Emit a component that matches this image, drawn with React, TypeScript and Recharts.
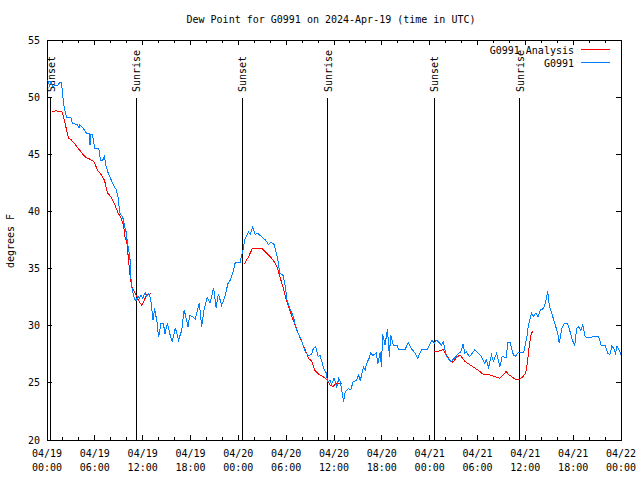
import { LineChart, Line, XAxis, YAxis, ReferenceLine, ReferenceArea } from 'recharts';

const FONT = '"DejaVu Sans Mono", "Liberation Mono", monospace';

// G0991 observations (hours since 04/19 00:00 UTC, deg F)
const obsHours = [
  0.1, 0.3, 0.5, 0.7, 1.0, 1.3, 1.6, 1.8, 2.0, 2.2, 2.5, 3.0, 3.2, 3.8, 4.0, 4.1, 4.5, 4.8, 5.0, 5.3,
  5.4, 5.5, 5.7, 6.0, 6.5, 6.7, 7.0, 7.2, 7.4, 7.6, 7.9, 8.2, 8.5, 8.7, 8.9, 9.1, 9.2, 9.5, 9.7, 9.9,
  10.1, 10.4, 10.5, 10.7, 11.0, 11.2, 11.4, 11.6, 11.8, 12.0, 12.3, 12.5, 12.7, 13.0, 13.3, 13.5, 13.8, 14.0, 14.3, 14.6,
  14.8, 15.1, 15.4, 15.7, 16.1, 16.5, 16.9, 17.2, 17.4, 17.7, 17.9, 18.2, 18.6, 19.1, 19.4, 19.7, 20.1, 20.45, 20.9, 21.2,
  21.5, 21.9, 22.3, 22.7, 23.0, 23.3, 23.6, 24.2, 24.55, 24.8, 25.25, 25.5, 25.8, 26.1, 26.4, 26.9, 27.4, 27.8, 28.1, 28.5,
  28.9, 29.2, 29.6, 29.9, 30.1, 30.4, 30.9, 31.3, 31.7, 31.9, 32.4, 32.8, 33.2, 33.4, 33.7, 34.0, 34.25, 34.7, 35.0, 35.2,
  35.5, 35.7, 36.0, 36.35, 36.6, 36.8, 37.2, 37.4, 37.8, 38.1, 38.4, 38.8, 39.1, 39.3, 39.7, 39.9, 40.1, 40.4, 40.6, 40.9,
  41.3, 41.5, 41.8, 41.95, 42.1, 42.4, 42.7, 42.95, 43.1, 43.45, 43.9, 44.1, 44.9, 45.3, 45.8, 46.2, 46.5, 47.0, 47.7, 48.3,
  48.6, 48.8, 49.1, 49.5, 49.7, 50.1, 50.5, 50.7, 51.0, 51.3, 51.65, 51.9, 52.2, 52.4, 52.6, 53.0, 53.2, 53.65, 54.1, 54.5,
  54.9, 55.1, 55.4, 55.75, 56.0, 56.4, 56.8, 57.1, 57.6, 57.8, 58.1, 58.5, 58.75, 59.0, 59.3, 59.8, 60.2, 60.4, 60.6, 60.8,
  61.0, 61.3, 61.6, 61.9, 62.3, 62.6, 62.8, 63.0, 63.3, 63.75, 64.1, 64.25, 64.6, 64.9, 65.3, 65.6, 65.9, 66.2, 66.45, 66.7,
  66.95, 67.2, 67.5, 67.7, 68.3, 68.5, 69.2, 69.5, 70.0, 70.35, 70.6, 70.85, 71.1, 71.3, 71.5, 71.7, 72.0,
];
const obsValues = [
  51.5, 51.0, 51.4, 50.9, 51.0, 51.0, 51.3, 51.3, 50.0, 48.9, 48.2, 48.2, 47.7, 47.6, 47.3, 47.6, 47.3, 47.0, 46.8, 46.8,
  45.8, 46.7, 46.7, 45.5, 45.5, 44.5, 44.5, 44.8, 44.0, 43.5, 43.0, 42.5, 42.1, 41.9, 41.3, 40.0, 39.8, 39.5, 38.8, 38.3,
  37.2, 36.0, 34.3, 33.1, 32.3, 32.2, 32.6, 32.4, 32.7, 32.4, 32.9, 32.6, 32.8, 32.4, 30.5, 31.5, 30.3, 29.0, 30.2, 30.2,
  29.3, 30.2, 29.3, 28.6, 29.8, 28.75, 29.6, 31.4, 30.8, 29.9, 30.9, 30.8, 30.6, 32.0, 29.9, 31.4, 32.5, 32.0, 33.3, 31.6,
  32.8, 31.8, 32.5, 33.7, 34.0, 34.6, 35.5, 35.5, 36.5, 37.5, 38.2, 38.0, 38.6, 38.0, 38.1, 37.8, 37.5, 37.1, 37.3, 37.1,
  36.0, 34.6, 34.4, 33.4, 32.25, 31.6, 30.8, 29.6, 29.1, 28.8, 27.7, 27.4, 27.5, 28.0, 28.2, 27.3, 27.4, 26.3, 25.9, 25.1,
  25.2, 24.9, 25.4, 24.65, 25.4, 25.1, 23.35, 24.2, 24.5, 24.4, 25.1, 25.2, 25.7, 25.2, 26.4, 26.1, 26.7, 27.15, 27.6, 27.4,
  27.6, 26.7, 27.7, 26.4, 29.3, 28.3, 29.7, 27.3, 29.2, 28.3, 28.3, 27.9, 27.9, 28.5, 27.9, 27.6, 27.15, 27.95, 27.95, 28.75,
  28.45, 28.75, 28.6, 28.3, 28.6, 27.3, 27.0, 26.85, 27.1, 27.3, 27.6, 27.7, 28.4, 27.6, 27.7, 27.3, 27.45, 27.9, 27.6, 27.3,
  26.7, 27.0, 26.35, 27.45, 26.9, 27.6, 26.4, 27.3, 27.2, 28.5, 28.5, 27.45, 27.3, 27.6, 27.7, 27.7, 29.05, 30.1, 30.65, 31.1,
  30.8, 31.1, 30.8, 31.4, 31.5, 32.25, 33.0, 31.8, 31.1, 30.1, 29.2, 28.5, 29.8, 30.2, 30.2, 29.5, 28.75, 28.3, 29.8, 29.9,
  29.6, 30.1, 29.05, 29.0, 29.0, 29.05, 29.05, 28.3, 28.3, 27.6, 27.45, 28.2, 28.0, 27.6, 28.2, 28.0, 27.45,
];

// G0991 Analysis (null = gap)
const anaHours = [
  0.63, 1.1, 1.9, 2.3, 2.7, 3.0, 3.6, 4.05, 4.5, 4.9, 5.3, 5.9, 6.35, 6.8, 7.2, 7.6, 8.0, 8.45, 8.9, 9.3,
  9.6, 9.8, 10.0, 10.25, 10.45, 10.65, 10.95, 11.45, 11.9, 12.5, 13.0,
  18.0,
  24.75, 25.25, 25.8, 26.9, 28.0, 28.5, 28.9, 29.2, 29.65, 30.0, 30.3, 30.7, 31.1, 31.5, 31.95, 32.4, 32.8, 33.2, 33.6, 34.0,
  34.5, 34.9, 35.3, 35.5, 35.9, 36.3, 37.0,
  42.0,
  48.6, 49.05, 49.7, 50.1, 50.5, 50.9, 51.35, 51.8, 52.4, 53.0, 53.65, 54.3, 54.7, 55.5, 56.2, 56.8, 57.2, 57.6, 57.9, 58.3,
  58.75, 59.2, 59.7, 60.05, 60.3, 60.5, 60.7, 60.9,
];
const anaValues = [
  48.7, 48.8, 48.7, 47.6, 46.4, 46.3, 45.8, 45.4, 45.0, 44.7, 44.6, 44.35, 43.6, 43.2, 42.75, 41.6, 41.3, 40.7, 39.9, 39.4,
  38.8, 37.65, 37.4, 35.6, 34.15, 33.4, 33.0, 32.25, 31.75, 32.7, 32.8,
  null,
  35.4, 36.0, 36.8, 36.8, 36.05, 35.6, 35.1, 34.3, 33.3, 32.25, 31.7, 30.8, 30.1, 29.35, 28.6, 27.9, 27.15, 26.9, 26.1, 25.8,
  25.6, 25.4, 25.1, 24.8, 24.7, 24.95, 24.9,
  null,
  27.7, 27.75, 27.9, 27.45, 27.0, 26.8, 27.2, 27.45, 26.9, 26.6, 26.3, 26.0, 25.75, 25.7, 25.55, 25.4, 25.7, 26.0, 25.7, 25.55,
  25.3, 25.25, 25.55, 25.85, 27.0, 28.3, 29.2, 29.5,
];

const sunHours = [0.45, 11.2, 24.5, 35.2, 48.6, 59.3];
const sunLabels = ['Sunset', 'Sunrise', 'Sunset', 'Sunrise', 'Sunset', 'Sunrise'];

const xTicks = [0, 2, 4, 6, 8, 10, 12, 14, 16, 18, 20, 22, 24, 26, 28, 30, 32, 34, 36, 38, 40, 42, 44, 46, 48, 50, 52, 54, 56, 58, 60, 62, 64, 66, 68, 70, 72];
const xMajor = [0, 6, 12, 18, 24, 30, 36, 42, 48, 54, 60, 66, 72];
const xDateLabels = ['04/19', '04/19', '04/19', '04/19', '04/20', '04/20', '04/20', '04/20', '04/21', '04/21', '04/21', '04/21', '04/22'];
const xTimeLabels = ['00:00', '06:00', '12:00', '18:00', '00:00', '06:00', '12:00', '18:00', '00:00', '06:00', '12:00', '18:00', '00:00'];
const yTicks = [20, 25, 30, 35, 40, 45, 50, 55];

const seriesNames = ['G0991 Analysis', 'G0991'];
const seriesColors = ['#ff0000', '#0080ff'];

const obsData = obsHours.map((h, i) => ({ h, v: obsValues[i] }));
const anaData = anaHours.map((h, i) => ({ h, v: anaValues[i] }));

const PLOT_TOP = 40;
const PLOT_BOTTOM = 440;
const PLOT_LEFT = 47;
const PLOT_RIGHT = 621;

function XTick(props: any) {
  const { x, payload } = props;
  const idx = xMajor.indexOf(payload.value);
  const len = idx >= 0 ? 5 : 3;
  return (
    <g>
      <line x1={x} x2={x} y1={PLOT_BOTTOM} y2={PLOT_BOTTOM - len} stroke="#000" shapeRendering="crispEdges" />
      <line x1={x} x2={x} y1={PLOT_TOP} y2={PLOT_TOP + len} stroke="#000" shapeRendering="crispEdges" />
      {idx >= 0 && (
        <text x={x} textAnchor="middle" fontFamily={FONT} fontSize={10} fill="#000">
          <tspan x={x} y={457}>{xDateLabels[idx]}</tspan>
          <tspan x={x} y={471}>{xTimeLabels[idx]}</tspan>
        </text>
      )}
    </g>
  );
}

function YTick(props: any) {
  const { y, payload } = props;
  return (
    <g>
      <line x1={PLOT_LEFT} x2={PLOT_LEFT + 5} y1={y} y2={y} stroke="#000" shapeRendering="crispEdges" />
      <line x1={PLOT_RIGHT} x2={PLOT_RIGHT - 5} y1={y} y2={y} stroke="#000" shapeRendering="crispEdges" />
      <text x={40} y={y + 3.5} textAnchor="end" fontFamily={FONT} fontSize={10} fill="#000">{payload.value}</text>
    </g>
  );
}

function SunMark(props: any) {
  const { x1, y1, y2, label } = props;
  const top = Math.min(y1, y2);
  const bottom = Math.max(y1, y2);
  const tx = x1 + 4;
  const ty = top + 52;
  return (
    <g>
      <line x1={x1} x2={x1} y1={top + 58} y2={bottom} stroke="#000" shapeRendering="crispEdges" />
      <text x={tx} y={ty} transform={`rotate(-90, ${tx}, ${ty})`} fontFamily={FONT} fontSize={10} fill="#000">{label}</text>
    </g>
  );
}

export default function App() {
  return (
    <div style={{ position: 'absolute', left: 0, top: 0, width: 640, height: 480, background: '#fff' }}>
      <LineChart width={640} height={480} margin={{ top: 40, right: 19, bottom: 0, left: 7 }}>
        <XAxis
          dataKey="h"
          type="number"
          domain={[0, 72]}
          ticks={xTicks}
          interval={0}
          height={40}
          tickLine={false}
          axisLine={false}
          tick={<XTick />}
          allowDataOverflow
        />
        <YAxis
          type="number"
          domain={[20, 55]}
          ticks={yTicks}
          interval={0}
          width={40}
          tickLine={false}
          axisLine={false}
          tick={<YTick />}
          allowDataOverflow
        />
        <ReferenceArea x1={0} x2={72} y1={20} y2={55} fill="none" stroke="#000" strokeWidth={1} shapeRendering="crispEdges" />
        {sunHours.map((h, i) => (
          <ReferenceLine
            key={i}
            x={h}
            stroke="#000"
            shape={(p: any) => <SunMark {...p} label={sunLabels[i]} />}
          />
        ))}
        <Line
          data={anaData}
          dataKey="v"
          name={seriesNames[0]}
          stroke={seriesColors[0]}
          strokeWidth={1}
          dot={false}
          type="linear"
          connectNulls={false}
          shapeRendering="crispEdges"
          isAnimationActive={false}
        />
        <Line
          data={obsData}
          dataKey="v"
          name={seriesNames[1]}
          stroke={seriesColors[1]}
          strokeWidth={1}
          dot={false}
          type="linear"
          shapeRendering="crispEdges"
          isAnimationActive={false}
        />
      </LineChart>
      <svg width={640} height={480} style={{ position: 'absolute', left: 0, top: 0, pointerEvents: 'none' }}>
        <text x={331} y={23} textAnchor="middle" fontFamily={FONT} fontSize={10} fill="#000">
          Dew Point for G0991 on 2024-Apr-19 (time in UTC)
        </text>
        <text transform="translate(14, 241) rotate(-90)" textAnchor="middle" fontFamily={FONT} fontSize={10} fill="#000">
          degrees F
        </text>
        {seriesNames.map((n, i) => (
          <g key={n}>
            <text x={574} y={53.5 + i * 13.3} textAnchor="end" fontFamily={FONT} fontSize={10} fill="#000">{n}</text>
            <line x1={581} x2={610} y1={49.5 + i * 13} y2={49.5 + i * 13} stroke={seriesColors[i]} shapeRendering="crispEdges" />
          </g>
        ))}
      </svg>
    </div>
  );
}
